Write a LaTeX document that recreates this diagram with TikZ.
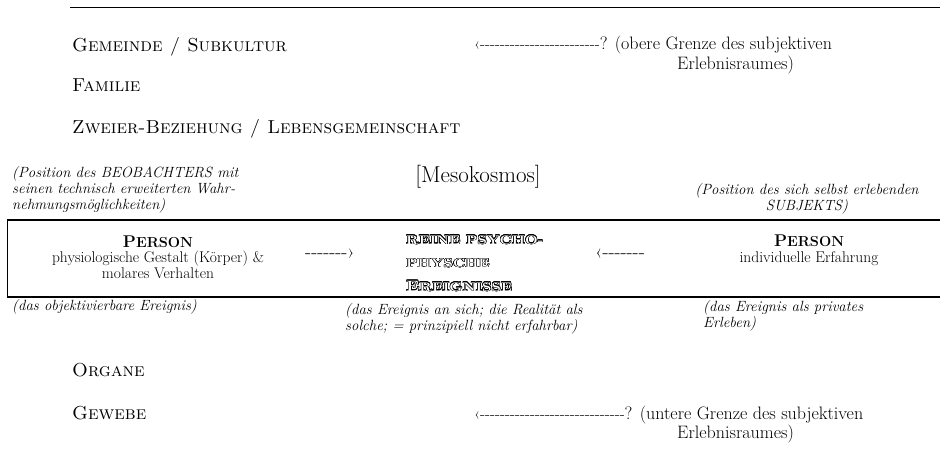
\documentclass[tikz,border=0pt]{standalone}
\usepackage{graphicx}
\usepackage[copies]{contour}
\contourlength{0.45pt}

\newcommand{\levelfont}{\fontsize{18.8}{22}\selectfont\scshape}
\newcommand{\plainfont}{\fontsize{18}{20}\selectfont}
\newcommand{\boxfont}{\fontsize{15.5}{15.5}\selectfont}
\newcommand{\notefont}{\fontsize{14.8}{16}\selectfont\itshape}
\newcommand{\dashes}[1]{\foreach \k in {1,...,#1}{\mbox{-}}}
\newcommand{\dashrun}[1]{{\fontsize{16.5}{19}\selectfont ‹\dashes{#1}}}
\newcommand{\engraved}[1]{\scalebox{1.2}[1]{\color{white}\contour{black}{#1}}}
\newcommand{\boldsc}[2]{{\bfseries\fontsize{17}{17}\selectfont #1\fontsize{14.5}{15}\selectfont #2}}

\begin{document}
\begin{tikzpicture}[x=1pt,y=-1pt,
  levelname/.style={anchor=base west,inner sep=0pt,font=\levelfont},
  plaintext/.style={anchor=base west,inner sep=0pt,font=\plainfont},
  notetext/.style={anchor=base west,inner sep=0pt,align=left,font=\notefont},
  persontext/.style={anchor=base,inner sep=0pt,align=center,font=\boxfont},
  arrowtext/.style={anchor=base,inner sep=0pt,font=\fontsize{20}{20}\selectfont}]
\useasboundingbox (0,0) rectangle (940,464);
% Linien
\draw[line width=0.8pt] (70,7) -- (940,7);
\draw[line width=1.4pt] (7,220) -- (940,220);
\draw[line width=1.4pt] (7,297) -- (940,297);
\draw[line width=0.8pt] (7,220) -- (7,297);
% Ebenen oben
\node (gemeinde) at (72,51) [levelname] {Gemeinde / Subkultur};
\node (familie) at (72,91) [levelname] {Familie};
\node (zweier) at (72,133) [levelname] {Zweier-Beziehung / Lebensgemeinschaft};
\node (obergrenze) at (474,49) [plaintext] {\dashrun{24}? (obere Grenze des subjektiven};
\node (obergrenzeb) at (677,69) [plaintext] {Erlebnisraumes)};
% Mesokosmos
\node (beobachter) at (12,209) [notetext] {(Position des BEOBACHTERS mit\\seinen technisch erweiterten Wahr-\\nehmungsmöglichkeiten)};
\node (mesokosmos) at (478,182) [anchor=base,inner sep=0pt,font=\fontsize{23}{24}\selectfont] {[Mesokosmos]};
\node (subjekt) at (807,210) [notetext,align=center,anchor=base] {(Position des sich selbst erlebenden\\SUBJEKTS)};
\node (personl) at (158,278) [persontext] {\boldsc{P}{ERSON}\\physiologische Gestalt (Körper) \&\\molares Verhalten};
\node (pfeill) at (330,258) [arrowtext] {\dashes{7}›};
\node (ereignisse) at (406,291) [anchor=base west,inner sep=0pt,align=left,font=\fontsize{15}{23.5}\selectfont\bfseries] {\engraved{\fontsize{12.5}{13}\selectfont REINE PSYCHO-}\\\engraved{\fontsize{12.5}{13}\selectfont PHYSCHE}\\\engraved{E\fontsize{12.5}{13}\selectfont REIGNISSE}};
\node (pfeilr) at (620,258) [arrowtext] {‹\dashes{7}};
\node (personr) at (809,262) [persontext] {\boldsc{P}{ERSON}\\individuelle Erfahrung};
\node (objektiv) at (12,310) [notetext] {(das objektivierbare Ereignis)};
\node (ansich) at (345,330) [notetext] {(das Ereignis an sich; die Realität als\\solche; = prinzipiell nicht erfahrbar)};
\node (privat) at (703,327) [notetext] {(das Ereignis als privates\\Erleben)};
% Ebenen unten
\node (organe) at (72,376) [levelname] {Organe};
\node (gewebe) at (72,419) [levelname] {Gewebe};
\node (untergrenze) at (474,419) [plaintext] {\dashrun{29}? (untere Grenze des subjektiven};
\node (untergrenzeb) at (677,438) [plaintext] {Erlebnisraumes)};
\end{tikzpicture}
\end{document}
